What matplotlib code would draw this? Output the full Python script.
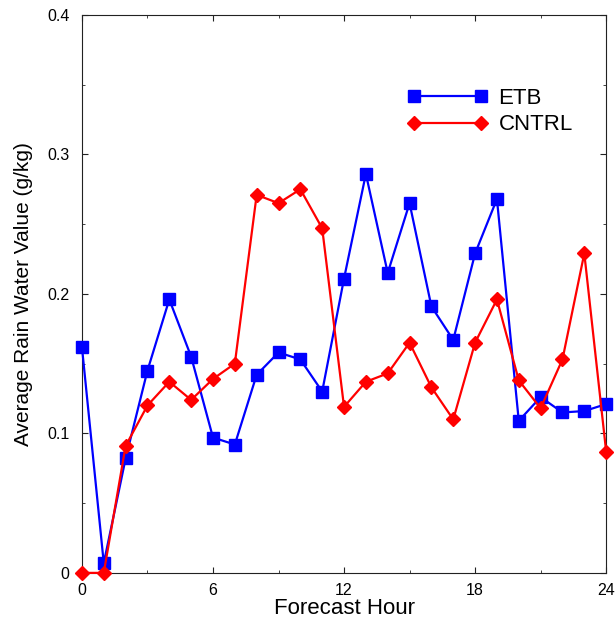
import matplotlib.pyplot as plt
from matplotlib.ticker import MultipleLocator

plt.rcParams['font.family'] = ['Liberation Sans', 'DejaVu Sans']

# Forecast hours and average rain water (g/kg) for the two runs
hours = list(range(25))
etb = [0.162, 0.007, 0.082, 0.145, 0.196, 0.155, 0.097, 0.092, 0.142, 0.158,
       0.153, 0.130, 0.211, 0.286, 0.215, 0.265, 0.191, 0.167, 0.229, 0.268,
       0.109, 0.126, 0.115, 0.116, 0.121]
cntrl = [0.0, 0.0, 0.091, 0.120, 0.137, 0.124, 0.139, 0.150, 0.271, 0.265,
         0.275, 0.247, 0.119, 0.137, 0.143, 0.165, 0.133, 0.110, 0.165, 0.196,
         0.138, 0.118, 0.153, 0.229, 0.087]

fig = plt.figure(figsize=(6.16, 6.2), dpi=100)
ax = fig.add_axes([0.133, 0.076, 0.851, 0.900])

ax.plot(hours, etb, color='#0000ff', marker='s', markersize=8, linewidth=1.6,
        label='ETB', clip_on=False, zorder=3)
ax.plot(hours, cntrl, color='#ff0000', marker='D', markersize=7, linewidth=1.6,
        label='CNTRL', clip_on=False, zorder=3)

ax.set_xlim(0, 24)
ax.set_ylim(0, 0.4)
ax.xaxis.set_major_locator(MultipleLocator(6))
ax.xaxis.set_minor_locator(MultipleLocator(3))
ax.yaxis.set_major_locator(MultipleLocator(0.1))
ax.yaxis.set_minor_locator(MultipleLocator(0.05))
ax.set_yticks([0, 0.1, 0.2, 0.3, 0.4])
ax.set_yticklabels(['0', '0.1', '0.2', '0.3', '0.4'])

for side in ax.spines.values():
    side.set_color('#222222')

ax.tick_params(which='both', direction='in', top=True, right=True,
               labelsize=11.5, color='#222222')
ax.tick_params(which='major', length=4)
ax.tick_params(which='minor', length=2.5)
ax.tick_params(axis='x', pad=7)
ax.tick_params(axis='y', pad=9)

ax.set_xlabel('Forecast Hour', fontsize=16, labelpad=0)
ax.set_ylabel('Average Rain Water Value (g/kg)', fontsize=15, labelpad=10)

ax.legend(loc='upper left', bbox_to_anchor=(0.604, 0.885), borderaxespad=0,
          frameon=False, numpoints=2, fontsize=16, handlelength=3.6,
          handletextpad=0.5, labelspacing=0.25)

fig.savefig('out.png', dpi=100)
